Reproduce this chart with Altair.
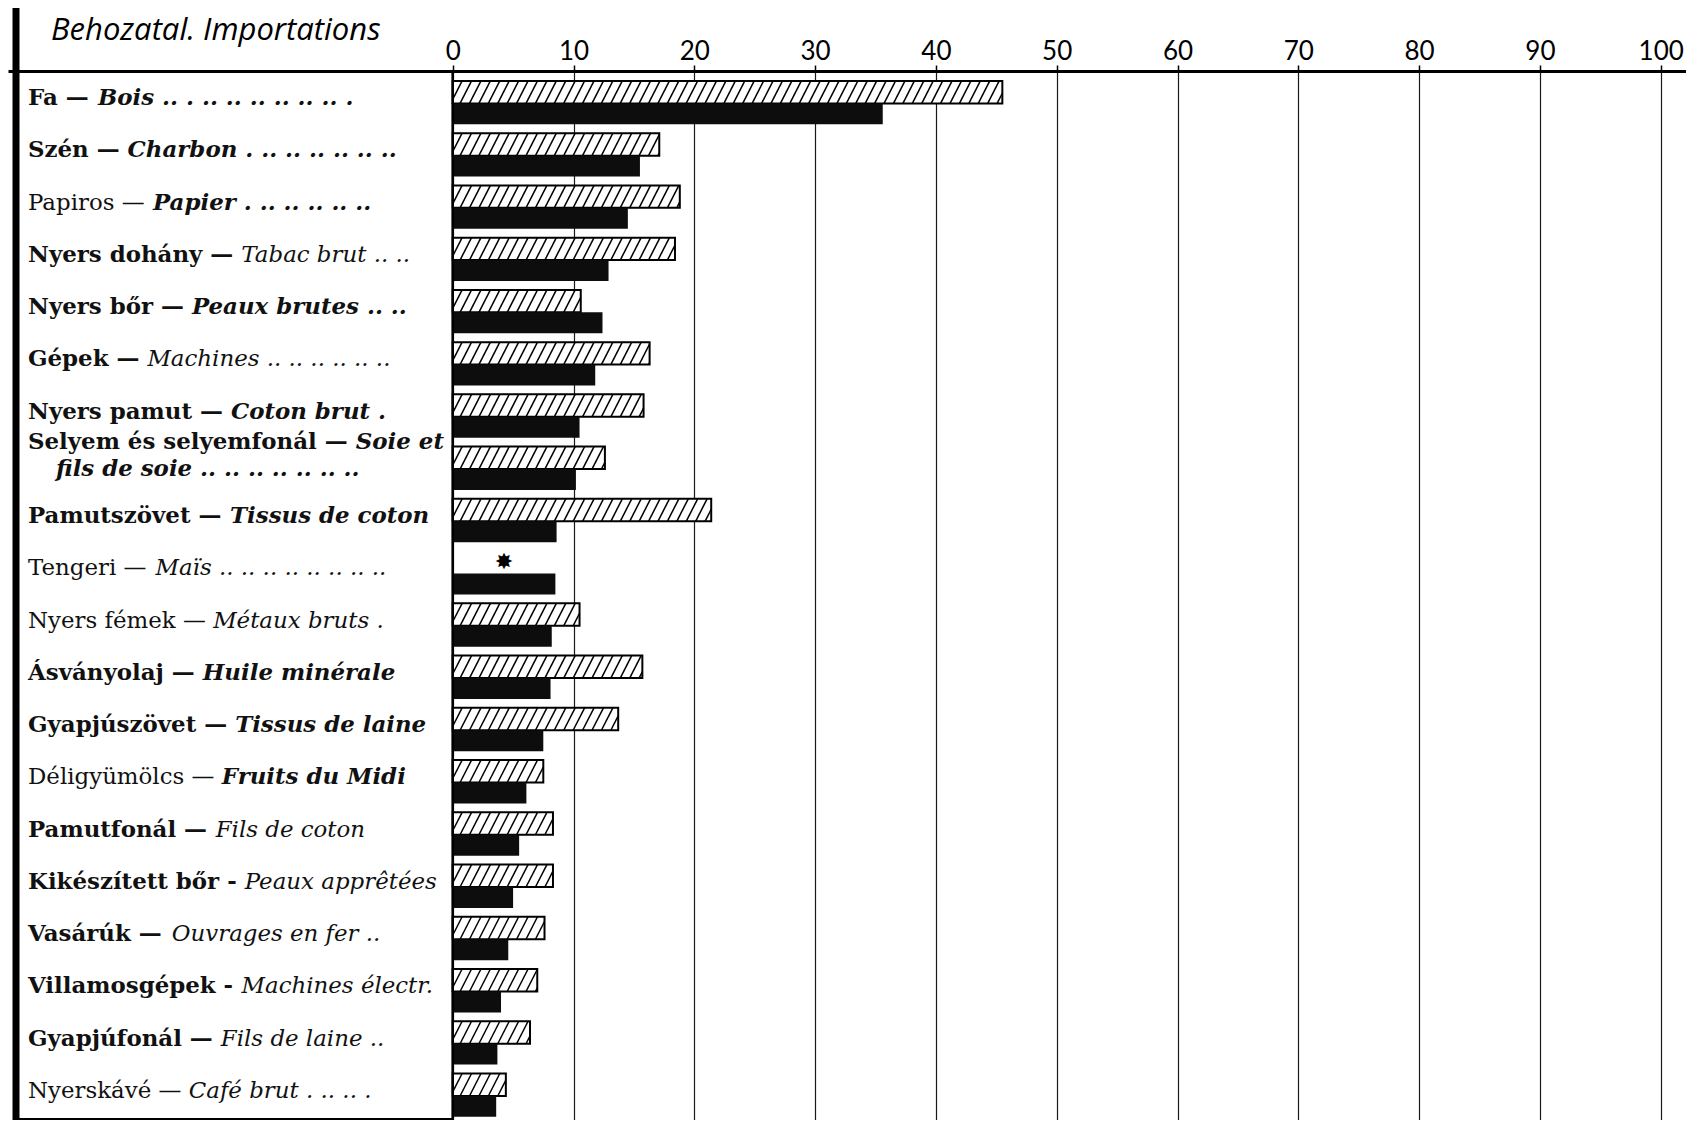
import glob
import os
import struct

import altair as alt
import pandas as pd

# ---------------- data ----------------
hu_names = ["Fa", "Szén", "Papiros", "Nyers dohány", "Nyers bőr", "Gépek",
            "Nyers pamut", "Selyem és selyemfonál", "Pamutszövet", "Tengeri",
            "Nyers fémek", "Ásványolaj", "Gyapjúszövet", "Déligyümölcs",
            "Pamutfonál", "Kikészített bőr", "Vasárúk", "Villamosgépek",
            "Gyapjúfonál", "Nyerskávé"]
fr_names = ["Bois", "Charbon", "Papier", "Tabac brut", "Peaux brutes", "Machines",
            "Coton brut", "Soie et\nfils de soie", "Tissus de coton", "Maïs",
            "Métaux bruts", "Huile minérale", "Tissus de laine", "Fruits du Midi",
            "Fils de coton", "Peaux apprêtées", "Ouvrages en fer", "Machines électr.",
            "Fils de laine", "Café brut"]
leaders = [".. . .. .. .. .. .. .. .", ". .. .. .. .. .. ..", "  . .. .. .. .. ..",
           ".. ..", ".. ..", ".. .. .. .. .. ..", ".", ".. .. .. .. .. .. ..", "",
           ".. .. .. .. .. .. .. ..", ".", "", "", "", "", "", "..", "", "..",
           ". .. .. ."]
hatched_values = [45.5, 17.1, 18.8, 18.4, 10.6, 16.3, 15.8, 12.6, 21.4, None,
                  10.5, 15.7, 13.7, 7.5, 8.3, 8.3, 7.6, 7.0, 6.4, 4.4]
black_values = [35.6, 15.5, 14.5, 12.9, 12.4, 11.8, 10.5, 10.2, 8.6, 8.5,
                8.2, 8.1, 7.5, 6.1, 5.5, 5.0, 4.6, 4.0, 3.7, 3.6]
tick_values = [0, 10, 20, 30, 40, 50, 60, 70, 80, 90, 100]
title_text = "Behozatal. Importations"
missing_mark = "\u2738"

# ---------------- styles ----------------
hu_plain = ["Papiros", "Tengeri", "Nyers fémek", "Déligyümölcs", "Nyerskávé"]
fr_bold = ["Bois", "Charbon", "Papier", "Peaux brutes", "Coton brut", "Soie et\nfils de soie",
           "Tissus de coton", "Huile minérale", "Tissus de laine", "Fruits du Midi"]
short_dash = ["Kikészített bőr", "Villamosgépek"]

W, H, PAD_TOP = 1678, 1049, 63
ZERO_PX, PX_PER_UNIT = 444.7, 12.08
XMIN = -ZERO_PX / PX_PER_UNIT
XMAX = (W - ZERO_PX) / PX_PER_UNIT
YMAX = 20.08
H_TOP, H_MID, B_BOT = 0.19, 0.62, 1.02
LABEL_Y = 0.52
LABEL_X0, LABEL_X1, LABEL_X2ND = 20, 436, 48
HATCH_STEP, HATCH_RUN = 0.78, 0.95


def px_to_x(px):
    return XMIN + px * (XMAX - XMIN) / W


# ---------------- text measuring from installed font files ----------------
def font_measurer(filename, fallback_em=0.6):
    paths = []
    for root in ["/usr/share/fonts", "/usr/local/share/fonts", os.path.expanduser("~/.fonts"),
                 os.path.expanduser("~/.local/share/fonts")]:
        paths += glob.glob(os.path.join(root, "**", filename), recursive=True)
    if not paths:
        return lambda s, size: len(s) * fallback_em * size
    try:
        data = open(paths[0], "rb").read()
        n_tables = struct.unpack(">H", data[4:6])[0]
        tables = {}
        for i in range(n_tables):
            tag, _, off, ln = struct.unpack(">4sIII", data[12 + 16 * i:28 + 16 * i])
            tables[tag.decode("latin1")] = off
        head = tables["head"]
        upem = struct.unpack(">H", data[head + 18:head + 20])[0]
        hhea = tables["hhea"]
        nhm = struct.unpack(">H", data[hhea + 34:hhea + 36])[0]
        hmtx = tables["hmtx"]
        adv = [struct.unpack(">H", data[hmtx + 4 * i:hmtx + 4 * i + 2])[0] for i in range(nhm)]
        cmap = tables["cmap"]
        nsub = struct.unpack(">H", data[cmap + 2:cmap + 4])[0]
        sub = None
        for i in range(nsub):
            pid, eid, off = struct.unpack(">HHI", data[cmap + 4 + 8 * i:cmap + 12 + 8 * i])
            fmt = struct.unpack(">H", data[cmap + off:cmap + off + 2])[0]
            if fmt == 4 and pid in (0, 3):
                sub = cmap + off
                break
        seg2 = struct.unpack(">H", data[sub + 6:sub + 8])[0]
        seg = seg2 // 2
        ends = struct.unpack(">%dH" % seg, data[sub + 14:sub + 14 + seg2])
        starts = struct.unpack(">%dH" % seg, data[sub + 16 + seg2:sub + 16 + 2 * seg2])
        deltas = struct.unpack(">%dh" % seg, data[sub + 16 + 2 * seg2:sub + 16 + 3 * seg2])
        rpos = sub + 16 + 3 * seg2
        roffs = struct.unpack(">%dH" % seg, data[rpos:rpos + seg2])

        def gid(ch):
            code = ord(ch)
            for i in range(seg):
                if starts[i] <= code <= ends[i]:
                    if roffs[i] == 0:
                        return (code + deltas[i]) & 0xFFFF
                    p = rpos + 2 * i + roffs[i] + 2 * (code - starts[i])
                    g = struct.unpack(">H", data[p:p + 2])[0]
                    return (g + deltas[i]) & 0xFFFF if g else 0
            return 0

        def measure(s, size):
            return sum(adv[min(gid(c), nhm - 1)] for c in s) * size / upem
        return measure
    except Exception:
        return lambda s, size: len(s) * fallback_em * size


m_b = font_measurer("DejaVuSerif-Bold.ttf", 0.66)
m_r = font_measurer("DejaVuSerif.ttf", 0.6)
m_i = font_measurer("DejaVuSerif-Italic.ttf", 0.56)
m_bi = font_measurer("DejaVuSerif-BoldItalic.ttf", 0.62)

hu_kind = ["hu_r" if n in hu_plain else "hu_b" for n in hu_names]
fr_kind = ["fr_bi" if n in fr_bold else "fr_i" for n in fr_names]
meas = {"hu_b": m_b, "hu_r": m_r, "fr_i": m_i, "fr_bi": m_bi}
hu_txts = [n + (" -" if n in short_dash else " —") for n in hu_names]

# choose font size so that the widest line fills the label column
ref = 22.0
widest = max(meas[hk](ht + " ", ref) + meas[fk](fn.split("\n")[0], ref)
             for ht, fn, hk, fk in zip(hu_txts, fr_names, hu_kind, fr_kind))
FS = max(18.0, min(25.0, ref * (LABEL_X1 - LABEL_X0) / widest))

label_rows = []
for i, (ht, fn, ld, hk, fk) in enumerate(zip(hu_txts, fr_names, leaders, hu_kind, fr_kind)):
    parts = fn.split("\n")
    y_first = i + (0.11 if len(parts) > 1 else LABEL_Y)
    label_rows.append({"txt": ht, "xv": px_to_x(LABEL_X0), "yv": y_first, "font": hk})
    fr_px = LABEL_X0 + meas[hk](ht + " ", FS)
    if len(parts) > 1:
        label_rows.append({"txt": parts[0], "xv": px_to_x(fr_px), "yv": y_first, "font": fk})
        line2, x2px, y2 = parts[1], LABEL_X2ND, i + 0.62
    else:
        line2, x2px, y2 = parts[0], fr_px, y_first
    lead = ld
    full = line2 + (" " + lead if lead else "")
    while lead and x2px + meas[fk](full, FS) > LABEL_X1 + 2:
        lead = lead[:-1].rstrip()
        full = line2 + (" " + lead if lead else "")
    label_rows.append({"txt": full, "xv": px_to_x(x2px), "yv": y2, "font": fk})
labels_df = pd.DataFrame(label_rows)

# bars
bars_h = pd.DataFrame([{"x": 0, "x2": v, "y": i + H_TOP, "y2": i + H_MID}
                       for i, v in enumerate(hatched_values) if v is not None])
bars_b = pd.DataFrame([{"x": 0, "x2": v, "y": i + H_MID, "y2": i + B_BOT}
                       for i, v in enumerate(black_values)])

# hatch strokes derived from each hatched bar's length
hatch = []
for i, v in enumerate(hatched_values):
    if v is None:
        continue
    k = -HATCH_RUN
    while k < v:
        t0 = max(0.0, -k / HATCH_RUN)
        t1 = min(1.0, (v - k) / HATCH_RUN)
        if t1 > t0:
            hatch.append({"x": k + HATCH_RUN * t0, "x2": k + HATCH_RUN * t1,
                          "y": i + H_MID - (H_MID - H_TOP) * t0,
                          "y2": i + H_MID - (H_MID - H_TOP) * t1})
        k += HATCH_STEP
hatch_df = pd.DataFrame(hatch)

star_df = pd.DataFrame([{"x": black_values[i] / 2, "y": i + (H_TOP + H_MID) / 2, "t": missing_mark}
                        for i, v in enumerate(hatched_values) if v is None])

xs = alt.Scale(domain=[XMIN, XMAX], nice=False, zero=False)
ys = alt.Scale(domain=[0, YMAX], nice=False, zero=False, reverse=True)
x_axis = alt.Axis(orient="top", values=tick_values, grid=True, gridColor="#1a1a1a",
                  gridWidth=1.2, domain=True, domainColor="#000000", domainWidth=3,
                  ticks=True, tickSize=6, tickColor="#000000", tickWidth=1.5,
                  labelFont="Lato", labelFontSize=26, labelColor="#000000",
                  labelPadding=1, labelFlush=False, labelOverlap=False, title=None)


def X(field):
    return alt.X(field, scale=xs, axis=x_axis)


def Y(field):
    return alt.Y(field, scale=ys, axis=None)


one = pd.DataFrame({"a": [0]})

hatched_rect = alt.Chart(bars_h).mark_rect(fill="white", stroke="#000000", strokeWidth=2).encode(
    x=X("x:Q"), x2="x2:Q", y=Y("y:Q"), y2="y2:Q")
hatch_lines = alt.Chart(hatch_df).mark_rule(color="#000000", strokeWidth=1.5).encode(
    x=X("x:Q"), x2="x2:Q", y=Y("y:Q"), y2="y2:Q")
black_rect = alt.Chart(bars_b).mark_rect(fill="#0d0d0d").encode(
    x=X("x:Q"), x2="x2:Q", y=Y("y:Q"), y2="y2:Q")
zero_line = alt.Chart(one).mark_rule(color="#000000", strokeWidth=2.6).encode(
    x=alt.XDatum(0, scale=xs, axis=x_axis), y=alt.value(0), y2=alt.value(H))
left_border = alt.Chart(one).mark_rule(color="#000000", strokeWidth=7).encode(
    x=alt.value(8), y=alt.value(-PAD_TOP), y2=alt.value(H))
bottom_line = alt.Chart(one).mark_rule(color="#000000", strokeWidth=2).encode(
    x=alt.XDatum(px_to_x(8), scale=xs, axis=x_axis), x2=alt.X2Datum(0), y=alt.value(H - 1))
stars = alt.Chart(star_df).mark_text(font="DejaVu Sans", fontSize=22, color="#000000",
                                     baseline="middle", align="center").encode(
    x=X("x:Q"), y=Y("y:Q"), text="t:N")
title = alt.Chart(pd.DataFrame({"t": [title_text]})).mark_text(
    font="Open Sans", fontStyle="italic", fontSize=31, color="#000000",
    align="left", baseline="alphabetic").encode(
    x=alt.value(43), y=alt.value(-31), text="t:N")


def text_layer(kind, weight, style):
    return alt.Chart(labels_df).transform_filter(alt.datum.font == kind).mark_text(
        font="DejaVu Serif", fontSize=FS, fontWeight=weight, fontStyle=style,
        color="#111111", align="left", baseline="middle").encode(
        x=X("xv:Q"), y=Y("yv:Q"), text="txt:N")


chart = alt.layer(
    hatched_rect, hatch_lines, black_rect, zero_line, left_border, bottom_line, stars,
    text_layer("hu_b", "bold", "normal"), text_layer("hu_r", "normal", "normal"),
    text_layer("fr_i", "normal", "italic"), text_layer("fr_bi", "bold", "italic"),
    title,
).properties(
    width=W, height=H,
    padding={"left": 0, "top": PAD_TOP, "right": 0, "bottom": 0},
    autosize=alt.AutoSizeParams(type="none"),
    background="white",
).configure_view(stroke=None)

chart.save("out.html", embed_options={"renderer": "svg", "actions": False})
